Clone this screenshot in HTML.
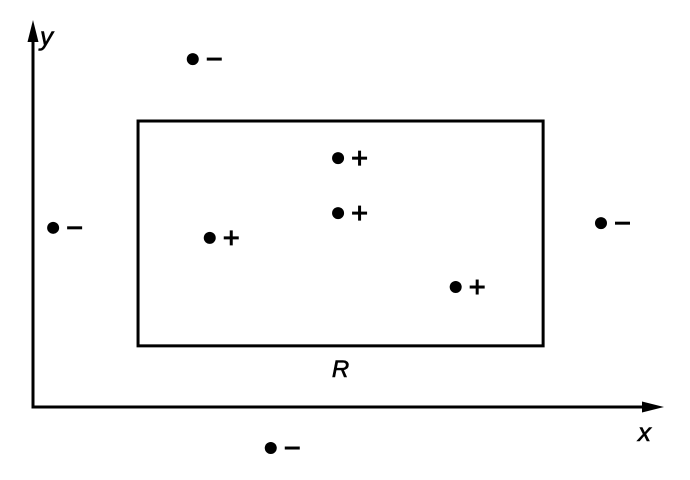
<!DOCTYPE html>
<html><head><meta charset="utf-8"><style>
html,body{margin:0;padding:0;background:#fff;}
svg{display:block;}
text{font-family:"Liberation Sans",sans-serif;font-style:italic;fill:#000;stroke:#000;stroke-width:0.6;}
</style></head><body>
<svg id="chart" width="690" height="480" viewBox="0 0 690 480" xmlns="http://www.w3.org/2000/svg"></svg>
<script>
const pointX = [25.4, 3.2, 90.3, 37.8, 48.5, 48.5, 28.1, 67.2];
const pointY = [89.9, 46.3, 47.5, -10.6, 64.3, 50.1, 43.7, 31.0];
const pointSign = ['-', '-', '-', '-', '+', '+', '+', '+'];
const rectX = [16.7, 81.1];
const rectY = [15.8, 73.9];

const sx = v => 33 + v * 6.29;
const sy = v => 407 - v * 3.87;
const NS = 'http://www.w3.org/2000/svg';
const svg = document.getElementById('chart');
const SW = 3;
function mk(tag, attrs) {
  const e = document.createElementNS(NS, tag);
  for (const k in attrs) e.setAttribute(k, attrs[k]);
  svg.appendChild(e);
  return e;
}
let e = mk('line', {x1: sx(0), y1: sy(0), x2: sx(0), y2: 34, stroke: '#000', 'stroke-width': SW});


e = mk('polygon', {points: `${sx(0)-5.5},42 ${sx(0)},20 ${sx(0)+5.5},42`, fill: '#000'});


e = mk('line', {x1: sx(0) - 1.5, y1: sy(0), x2: 650, y2: sy(0), stroke: '#000', 'stroke-width': SW});


e = mk('polygon', {points: `642,${sy(0)-5.5} 664,${sy(0)} 642,${sy(0)+5.5}`, fill: '#000'});


e = mk('text', {x: 40, y: 45, 'font-size': 26});
e.textContent = 'y';


e = mk('text', {x: 638, y: 441, 'font-size': 26});
e.textContent = 'x';


e = mk('rect', {x: sx(rectX[0]), y: sy(rectY[1]), width: sx(rectX[1]) - sx(rectX[0]), height: sy(rectY[0]) - sy(rectY[1]), fill: 'none', stroke: '#000', 'stroke-width': SW});


e = mk('text', {x: (sx(rectX[0]) + sx(rectX[1])) / 2, y: sy(rectY[0]) + 31, 'font-size': 24, 'text-anchor': 'middle'});
e.textContent = 'R';


for (let i = 0; i < pointX.length; i++) {
  const cx = sx(pointX[i]), cy = sy(pointY[i]);
  const g = document.createElementNS(NS, 'g');
  svg.appendChild(g);
  
  
  const c = document.createElementNS(NS, 'circle');
  c.setAttribute('cx', cx); c.setAttribute('cy', cy); c.setAttribute('r', 6); c.setAttribute('fill', '#000');
  g.appendChild(c);
  const h = document.createElementNS(NS, 'line');
  h.setAttribute('x1', cx + 14); h.setAttribute('x2', cx + 29); h.setAttribute('y1', cy); h.setAttribute('y2', cy);
  h.setAttribute('stroke', '#000'); h.setAttribute('stroke-width', SW);
  g.appendChild(h);
  if (pointSign[i] === '+') {
    const v = document.createElementNS(NS, 'line');
    v.setAttribute('x1', cx + 21.5); v.setAttribute('x2', cx + 21.5); v.setAttribute('y1', cy - 7.5); v.setAttribute('y2', cy + 7.5);
    v.setAttribute('stroke', '#000'); v.setAttribute('stroke-width', SW);
    g.appendChild(v);
  }
}
</script>
</body></html>
